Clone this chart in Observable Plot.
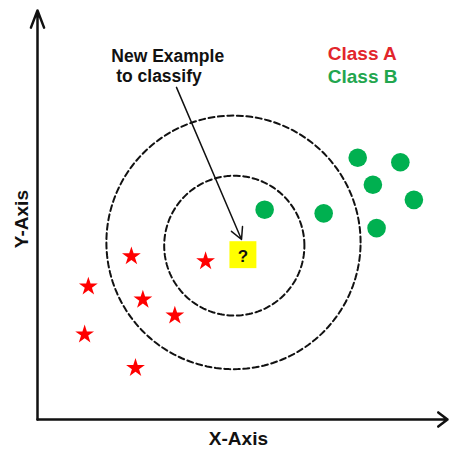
<!DOCTYPE html>
<html>
<head>
<meta charset="utf-8">
<script src="https://cdn.jsdelivr.net/npm/d3@7"></script>
<script src="https://cdn.jsdelivr.net/npm/@observablehq/plot@0.6"></script>
<style>
  html, body { margin: 0; padding: 0; background: #fff; }
</style>
</head>
<body>
<div id="chart"></div>
<script>
// ---- data (chart units: origin at the axis corner) ----
const classAx = [2.29, 4.10, 1.24, 2.57, 3.35, 1.15, 2.39];
const classAy = [3.99, 3.87, 3.25, 2.93, 2.54, 2.08, 1.26];
const classBx = [7.81, 8.85, 8.18, 9.18, 5.54, 6.98, 8.27];
const classBy = [6.40, 6.29, 5.74, 5.37, 5.13, 5.04, 4.68];
const queryX = [5.01];
const queryY = [4.03];
const queryLabel = ["?"];
const ringCx = [4.80, 4.78];
const ringCy = [4.25, 4.33];
const ringR = [1.71, 3.10];
const pointerFrom = [3.39, 8.12];
const pointerTo = [4.976, 4.40];
const noteLines = ["New Example", " to classify"];
const noteX = [1.80, 1.80];
const noteY = [8.88, 8.38];
const legendLabels = ["Class A", "Class B"];
const legendX = [7.08, 7.08];
const legendY = [8.93, 8.37];
const axisTitles = ["X-Axis", "Y-Axis"];
const axisMax = 10;

// ---- build tables ----
const classA = classAx.map((x, i) => ({x, y: classAy[i]}));
const classB = classBx.map((x, i) => ({x, y: classBy[i]}));
const query = queryX.map((x, i) => ({x, y: queryY[i], label: queryLabel[i]}));
const rings = [];
ringR.forEach((r, k) => {
  for (let a = 0; a <= 360; a += 2) {
    const t = a * Math.PI / 180;
    rings.push({ring: k, x: ringCx[k] + r * Math.cos(t), y: ringCy[k] + r * Math.sin(t)});
  }
});
const notes = noteLines.map((t, i) => ({t, x: noteX[i], y: noteY[i]}));
const legend = legendLabels.map((t, i) => ({t, x: legendX[i], y: legendY[i]}));
const legendColors = ["#e2262c", "#22a64e"];

const font = "'Liberation Sans', Arial, Helvetica, sans-serif";

const chart = Plot.plot({
  width: 450,
  height: 451,
  marginLeft: 37,
  marginRight: 3,
  marginTop: 10,
  marginBottom: 32,
  x: {domain: [0, axisMax], axis: null},
  y: {domain: [0, axisMax], axis: null},
  style: {background: "#fff", fontFamily: font},
  marks: [
    // neighbourhood rings
    Plot.line(rings, {x: "x", y: "y", z: "ring", stroke: "#111", strokeWidth: 2, strokeDasharray: "6,3.5", fill: "none"}),
    // axes with arrows
    Plot.arrow([{x1: 0, y1: 0, x2: axisMax, y2: 0}], {x1: "x1", y1: "y1", x2: "x2", y2: "y2", stroke: "#111", strokeWidth: 2.5, headLength: 7, headAngle: 75}),
    Plot.arrow([{x1: 0, y1: 0, x2: 0, y2: axisMax}], {x1: "x1", y1: "y1", x2: "x2", y2: "y2", stroke: "#111", strokeWidth: 2.5, headLength: 11, headAngle: 42}),
    // class A stars
    Plot.dot(classA, {x: "x", y: "y", symbol: "star", r: 5.9, fill: "#ff0000", stroke: "none"}),
    // class B circles
    Plot.dot(classB, {x: "x", y: "y", r: 9.3, fill: "#00b050", stroke: "none"}),
    // query point
    Plot.dot(query, {x: "x", y: "y", symbol: "square", r: 15.2, fill: "#ffff00", stroke: "none"}),
    Plot.text(query, {x: "x", y: "y", text: "label", fontSize: 17, fontWeight: "bold", fill: "#111", dy: 2}),
    // pointer arrow
    Plot.arrow([{x1: pointerFrom[0], y1: pointerFrom[1], x2: pointerTo[0], y2: pointerTo[1]}], {x1: "x1", y1: "y1", x2: "x2", y2: "y2", stroke: "#111", strokeWidth: 1.5, headLength: 13, headAngle: 55}),
    // annotation
    Plot.text(notes, {x: "x", y: "y", text: "t", textAnchor: "start", fontSize: 17.5, fontWeight: "bold", fill: "#111"}),
    // legend
    Plot.text(legend, {x: "x", y: "y", text: "t", textAnchor: "start", fontSize: 19, fontWeight: "bold", fill: (d, i) => legendColors[i]}),
    // axis titles
    Plot.text([{t: axisTitles[0], x: 4.90, y: -0.48}], {x: "x", y: "y", text: "t", fontSize: 19, fontWeight: "bold", fill: "#111"}),
    Plot.text([{t: axisTitles[1], x: -0.37, y: 4.90}], {x: "x", y: "y", text: "t", rotate: -90, fontSize: 19, fontWeight: "bold", fill: "#111"})
  ]
});

document.getElementById("chart").appendChild(chart);
</script>
</body>
</html>
